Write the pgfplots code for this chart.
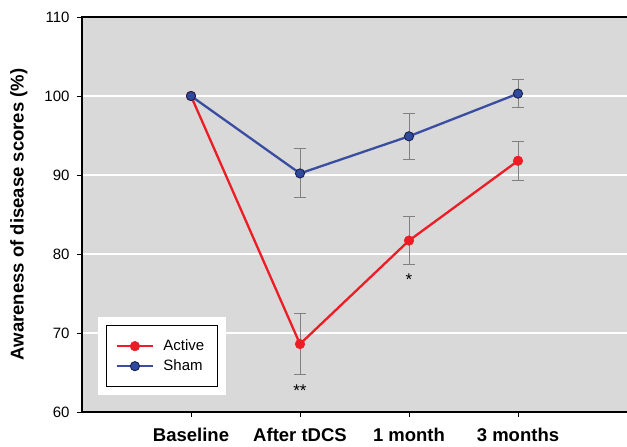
\documentclass[border=0pt]{standalone}
\usepackage{pgfplots}
\pgfplotsset{compat=1.18}
\usepackage{fontspec}
\setmainfont{Liberation Sans}
\definecolor{bg}{HTML}{D9D9D9}
\definecolor{actred}{HTML}{EE1C25}
\definecolor{shamblue}{HTML}{3A4DA0}
\definecolor{markblue}{HTML}{2E4A9E}
\definecolor{markedge}{HTML}{1B1F4A}
\definecolor{errgray}{HTML}{808080}
\begin{document}
\begin{tikzpicture}
\useasboundingbox (-82pt,-35pt) rectangle (545pt,412pt);
\begin{axis}[
 at={(0,0)}, anchor=south west,
 scale only axis, width=545pt, height=395pt,
 xmin=-1, xmax=4, ymin=60, ymax=110,
 xtick={0,1,2,3}, xticklabels={Baseline, After tDCS, 1 month, 3 months},
 ytick={60,70,...,110},
 ymajorgrids, grid style={white, line width=1.4pt},
 axis background/.style={fill=bg},
 axis line style={draw=none},
 tick pos=left, tick align=outside,
 major tick length=5pt,
 tick style={black, line width=0.9pt},
 clip=false,
 /pgf/number format/assume math mode=true,
 yticklabel style={font=\fontsize{15}{17}\selectfont, xshift=-4pt},
 xticklabel style={font=\bfseries\fontsize{18.5}{21}\selectfont, yshift=-8pt},
 ylabel={Awareness of disease scores (\%)},
 ylabel style={font=\bfseries\fontsize{18.5}{21}\selectfont},
 ylabel shift=10pt,
 legend style={at={(axis description cs:0.044,0.063)}, anchor=south west,
   draw=black, line width=0.9pt, fill=white,
   preaction={draw=white, line width=17pt},
   font=\fontsize{15}{17}\selectfont, inner xsep=2pt, inner ysep=12pt,
   row sep=3pt},
 legend cell align=left,
 legend image code/.code={\draw[mark repeat=2,mark phase=2,#1] plot coordinates {(0pt,0pt)(18pt,0pt)(36pt,0pt)};},
]
% error bars
\addplot[only marks, mark=none, forget plot,
  error bars/.cd, y dir=both, y explicit,
  error bar style={errgray, line width=0.9pt},
  error mark options={rotate=90, errgray, mark size=6pt, line width=0.9pt}]
  coordinates {(1,68.6) +- (0,3.9) (2,81.7) +- (0,3.0) (3,91.8) +- (0,2.5)};
\addplot[only marks, mark=none, forget plot,
  error bars/.cd, y dir=both, y explicit,
  error bar style={errgray, line width=0.9pt},
  error mark options={rotate=90, errgray, mark size=6pt, line width=0.9pt}]
  coordinates {(1,90.2) +- (0,3.1) (2,94.9) +- (0,2.9) (3,100.3) +- (0,1.8)};
% lines
\addplot[actred, line width=2.3pt, mark=*, mark size=4.8pt,
  mark options={fill=actred, draw=actred, line width=0.5pt}]
  coordinates {(0,100) (1,68.6) (2,81.7) (3,91.8)};
\addlegendentry{Active\hspace*{9pt}\mbox{}}
\addplot[shamblue, line width=2.3pt, mark=*, mark size=4.6pt,
  mark options={fill=markblue, draw=markedge, line width=0.9pt}]
  coordinates {(0,100) (1,90.2) (2,94.9) (3,100.3)};
\addlegendentry{Sham}
\draw[black, line width=1.1pt] (rel axis cs:1,1) -- (rel axis cs:0,1) -- (rel axis cs:0,0) -- (rel axis cs:1,0);
\node[font=\fontsize{17}{19}\selectfont] at (axis cs:1,62.7) {**};
\node[font=\fontsize{17}{19}\selectfont] at (axis cs:2,76.7) {*};
\end{axis}
\end{tikzpicture}
\end{document}
